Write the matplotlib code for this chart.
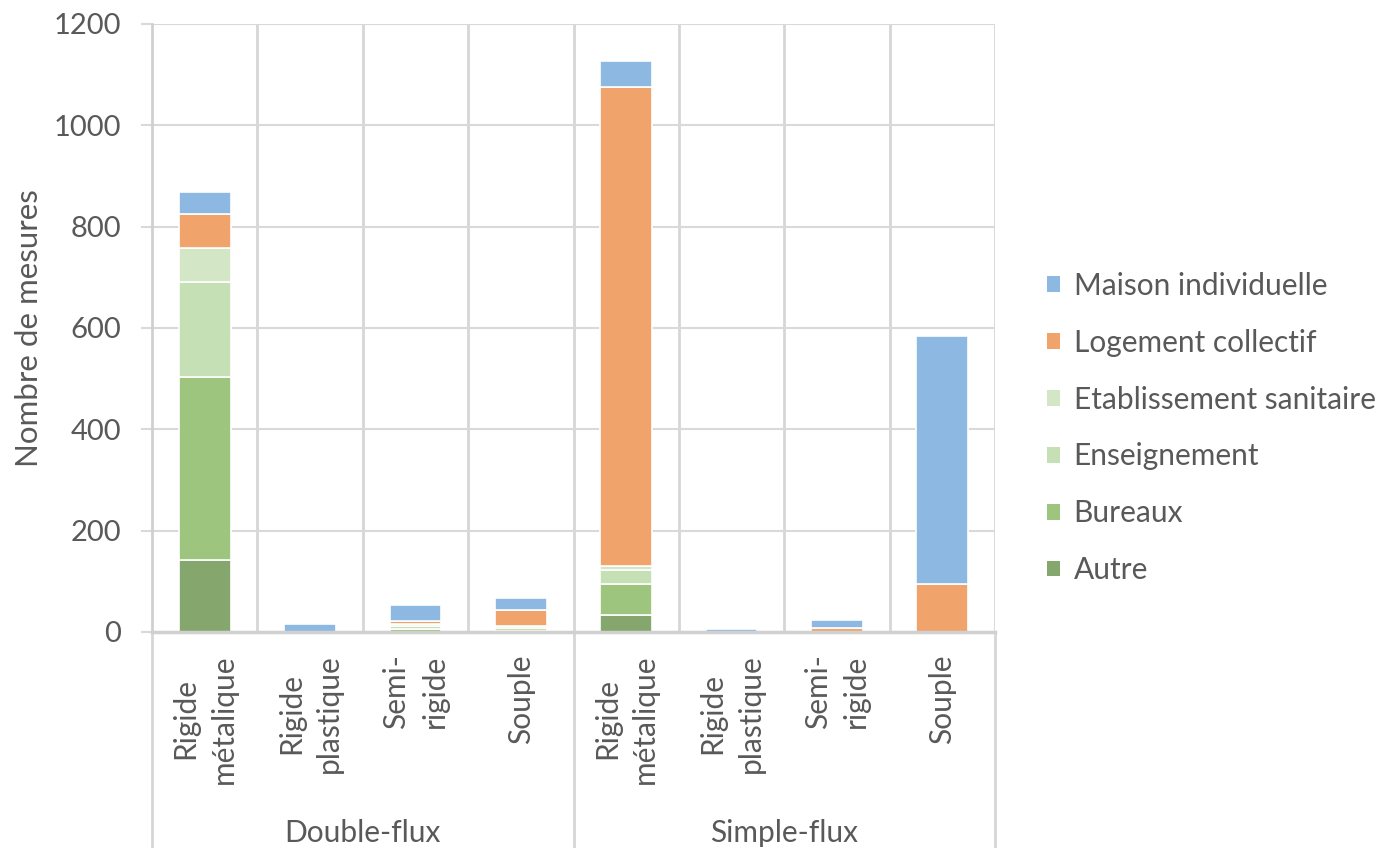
import matplotlib
matplotlib.use("Agg")
import matplotlib.pyplot as plt
from matplotlib.transforms import blended_transform_factory
from matplotlib.patches import Patch
import numpy as np

plt.rcParams['font.family'] = ['Lato', 'DejaVu Sans']

# Categories: duct type within each ventilation system
groups = ["Double-flux", "Simple-flux"]
duct_types = ["Rigide\nmétalique", "Rigide\nplastique", "Semi-\nrigide", "Souple"]

# Number of measurements per building type (stack order bottom -> top)
series_names = ["Autre", "Bureaux", "Enseignement", "Etablissement sanitaire",
                "Logement collectif", "Maison individuelle"]
autre          = [143, 0, 0, 0,   34, 0, 0, 0]
bureaux        = [361, 0, 6, 2,   60, 0, 0, 0]
enseignement   = [187, 0, 5, 6,   28, 0, 0, 0]
etablissement  = [66,  0, 4, 4,   9,  0, 0, 0]
logement       = [68,  0, 6, 32,  944, 0, 7, 94]
maison         = [43,  16, 32, 23, 52, 6, 17, 490]

series = [autre, bureaux, enseignement, etablissement, logement, maison]
colors = ["#85A76D", "#9DC57D", "#C5E0B4", "#D3E7C6", "#F0A46C", "#8DB8E2"]

text_color = "#595959"
grid_color = "#D9D9D9"
font_size = 21.5

W, H = 1392, 848
fig = plt.figure(figsize=(W / 100, H / 100), dpi=100)
left, right, top, bottom = 152, 995, 24, 632
ax = fig.add_axes([left / W, 1 - bottom / H, (right - left) / W, (bottom - top) / H])

n = len(groups) * len(duct_types)
x = np.arange(n)
base = np.zeros(n)
for vals, col, name in zip(series, colors, series_names):
    vals = np.array(vals, dtype=float)
    ax.bar(x, vals, bottom=base, width=0.49, color=col, edgecolor="white",
           linewidth=1.2, label=name, zorder=3)
    base += vals

ax.set_xlim(-0.5, n - 0.5)
ax.set_ylim(0, 1200)
ax.set_yticks(np.arange(0, 1201, 200))
ax.tick_params(axis="y", colors=grid_color, labelcolor=text_color,
               labelsize=21, length=8, width=1.5, pad=14)
ax.tick_params(axis="x", length=0, labelbottom=False)
ax.yaxis.grid(True, color=grid_color, linewidth=1.5, zorder=0)

for s in ["top", "right"]:
    ax.spines[s].set_visible(False)
ax.spines["left"].set_color("#D0D0D0")
ax.spines["left"].set_linewidth(2)
ax.spines["bottom"].set_color("#D0D0D0")
ax.spines["bottom"].set_linewidth(2.5)
ax.spines["bottom"].set_zorder(4)

# vertical separators between categories
for b in np.arange(0.5, n, 1.0):
    ax.axvline(b, color="#D6D6D6", linewidth=2, zorder=1)

ax.set_ylabel("Nombre de mesures", color=text_color, fontsize=22.5, labelpad=8)

# two-level category axis
trans = blended_transform_factory(ax.transData, ax.transAxes)
frac = lambda px: -px / (bottom - top)
for gi, g in enumerate(groups):
    for di, d in enumerate(duct_types):
        xi = gi * len(duct_types) + di
        ax.text(xi, frac(22), d, transform=trans, rotation=90, ha="center",
                va="top", multialignment="center", color=text_color,
                fontsize=font_size, linespacing=1.45)
    xc = gi * len(duct_types) + (len(duct_types) - 1) / 2
    ax.text(xc, frac(201), g, transform=trans, ha="center", va="center",
            color=text_color, fontsize=font_size)
for b in [-0.5, 3.5, 7.5]:
    ax.plot([b, b], [0, frac(H - bottom)], transform=trans, color="#D6D6D6",
            linewidth=2, clip_on=False, zorder=1)

# legend, top entry first
handles = [Patch(facecolor=c, edgecolor="none") for c in colors][::-1]
labels = series_names[::-1]
leg = fig.legend(handles, labels, loc="center left",
                 bbox_to_anchor=(1047 / W, 1 - 428 / H), frameon=False,
                 fontsize=font_size, labelcolor=text_color,
                 handlelength=0.42, handleheight=0.42, handletextpad=0.47,
                 labelspacing=0.97, borderpad=0, borderaxespad=0)

fig.savefig("out.png", dpi=100)
